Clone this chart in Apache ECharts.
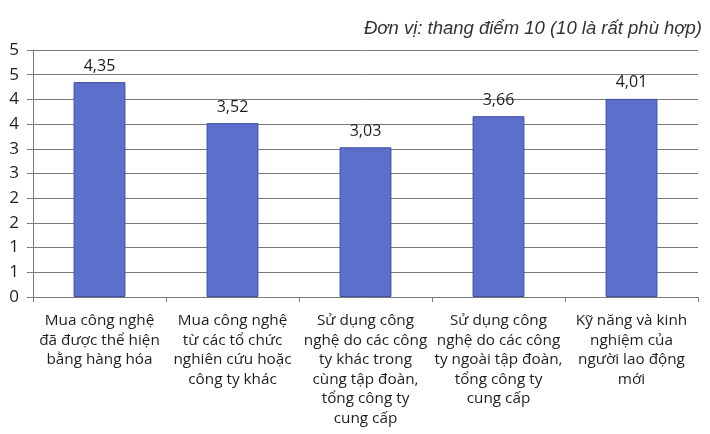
<!DOCTYPE html>
<html>
<head>
<meta charset="utf-8">
<script src="https://cdn.jsdelivr.net/npm/echarts@6/dist/echarts.min.js"></script>
<style>
  html, body { margin: 0; padding: 0; background: #ffffff; }
  #chart { width: 710px; height: 434px; }
</style>
</head>
<body>
<div id="chart"></div>
<script>
// Category names (line breaks as printed under each bar)
const categories = [
  'Mua công nghệ\nđã được thể hiện\nbằng hàng hóa',
  'Mua công nghệ\ntừ các tổ chức\nnghiên cứu hoặc\ncông ty khác',
  'Sử dụng công\nnghệ do các công\nty khác trong\ncùng tập đoàn,\ntổng công ty\ncung cấp',
  'Sử dụng công\nnghệ do các công\nty ngoài tập đoàn,\ntổng công ty\ncung cấp',
  'Kỹ năng và kinh\nnghiệm của\nngười lao động\nmới'
];

// Scores on a 10-point scale
const scores = [4.35, 3.52, 3.03, 3.66, 4.01];

// Y-axis tick labels, one per 0.5 step from 0 to 5
const yTickLabels = ['0', '1', '1', '2', '2', '3', '3', '4', '4', '5', '5'];

const unitNote = 'Đơn vị: thang điểm 10 (10 là rất phù hợp)';

const chart = echarts.init(document.getElementById('chart'));
const labelFont = '"Open Sans", "Noto Sans", sans-serif';

chart.setOption({
  animation: false,
  backgroundColor: '#ffffff',
  title: {
    text: unitNote,
    right: 3,
    top: 14,
    textStyle: {
      fontFamily: '"Liberation Sans", Arial, sans-serif',
      fontStyle: 'italic',
      fontWeight: 'normal',
      fontSize: 18.5,
      color: '#333333'
    }
  },
  grid: { left: 33, right: 12, top: 50, bottom: 137, containLabel: false },
  xAxis: {
    type: 'category',
    data: categories,
    axisLine: { show: true, lineStyle: { color: '#7a7a7a', width: 1 } },
    axisTick: { show: true, alignWithLabel: false, length: 5, lineStyle: { color: '#7a7a7a' } },
    axisLabel: {
      interval: 0,
      margin: 14,
      fontFamily: labelFont,
      fontSize: 15.3,
      lineHeight: 19.5,
      color: '#1e1e1e',
      align: 'center'
    }
  },
  yAxis: {
    type: 'value',
    min: 0,
    max: 5,
    interval: 0.5,
    axisLine: { show: true, lineStyle: { color: '#7a7a7a', width: 1 } },
    axisTick: { show: true, length: 6, lineStyle: { color: '#7a7a7a' } },
    splitLine: { show: true, lineStyle: { color: '#7a7a7a', width: 1 } },
    axisLabel: {
      margin: 14,
      fontFamily: labelFont,
      fontSize: 17,
      color: '#1e1e1e',
      formatter: function (value) {
        return yTickLabels[Math.round(value / 0.5)];
      }
    }
  },
  series: [{
    type: 'bar',
    data: scores,
    barWidth: '39%',
    itemStyle: {
      color: '#5b6fcb',
      borderColor: '#3e4fa6',
      borderWidth: 1
    },
    label: {
      show: true,
      position: 'top',
      distance: 8,
      fontFamily: labelFont,
      fontSize: 16,
      color: '#1e1e1e',
      formatter: function (p) {
        return p.value.toFixed(2).replace('.', ',');
      }
    }
  }]
});
</script>
</body>
</html>
